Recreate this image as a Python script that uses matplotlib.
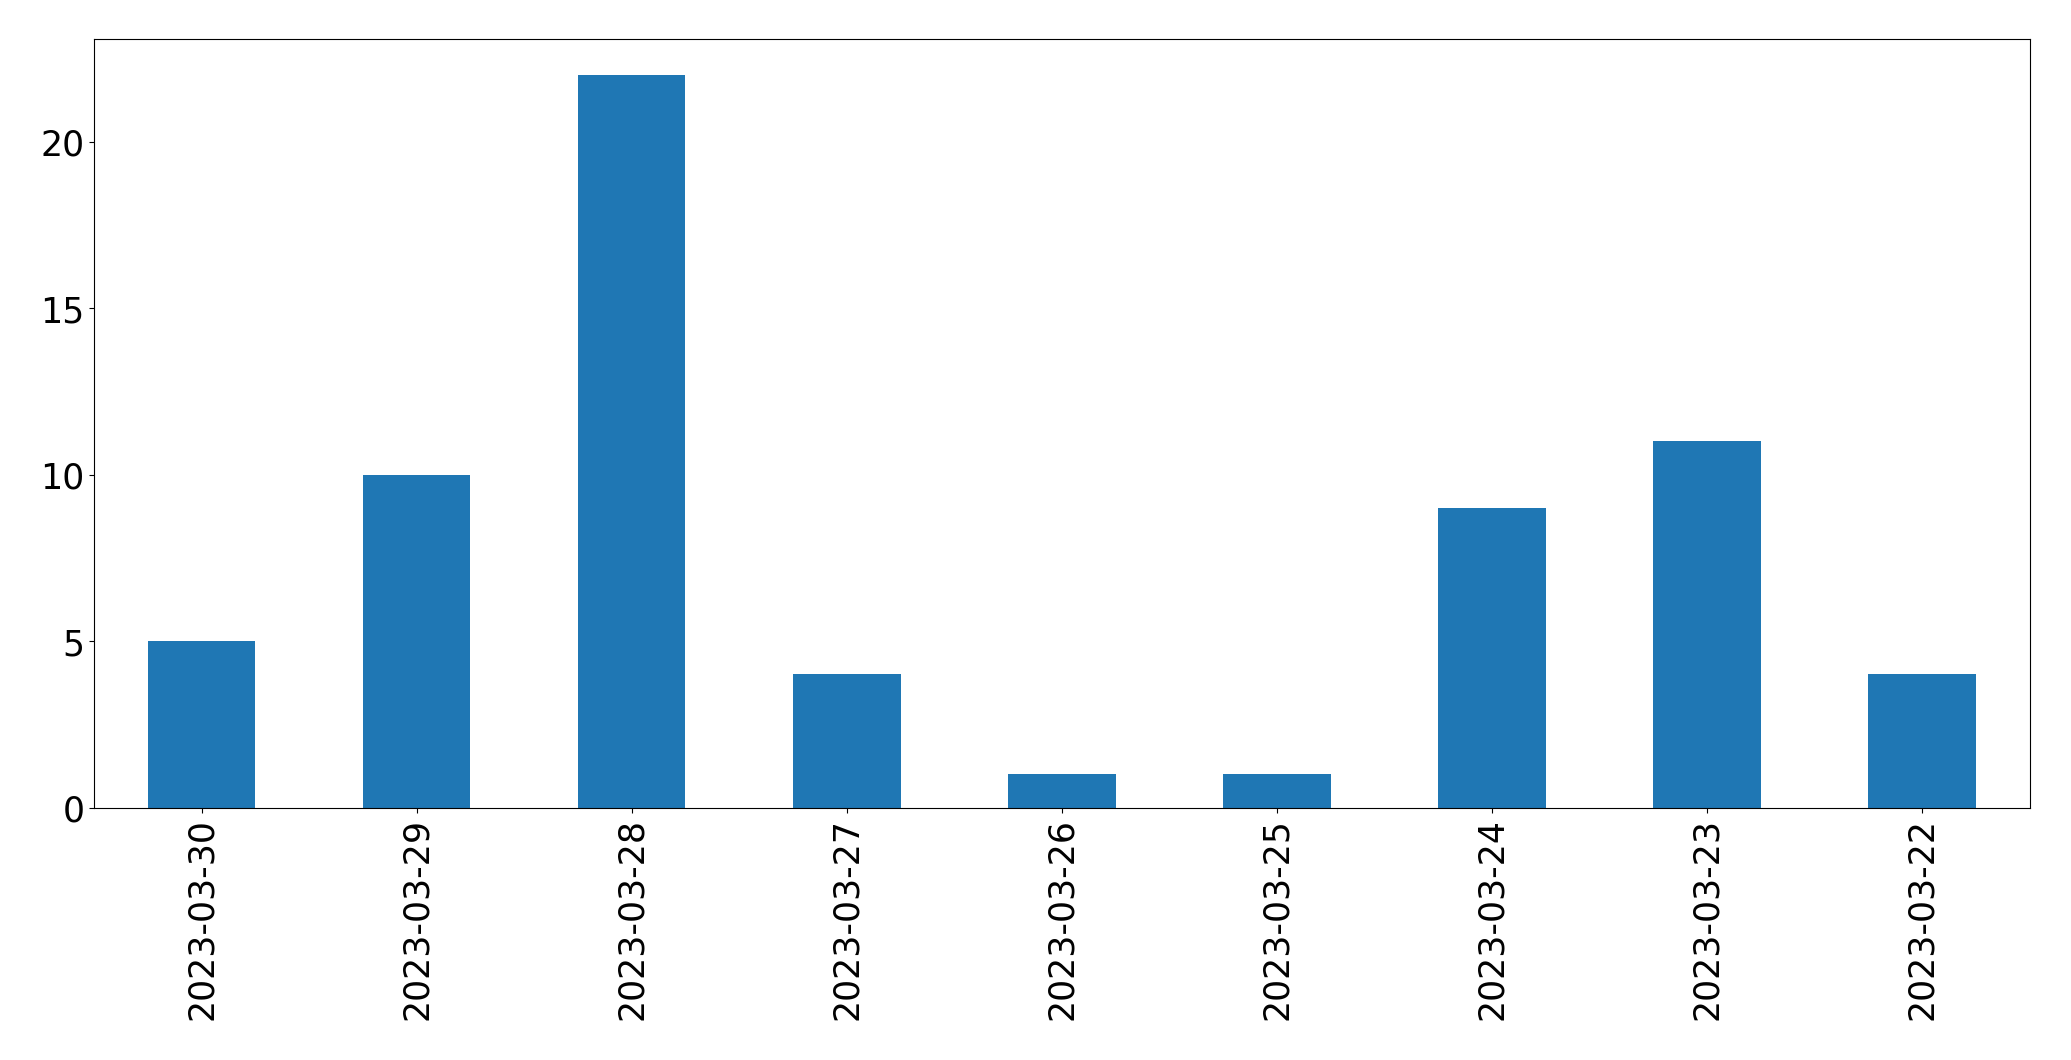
import matplotlib
matplotlib.use("Agg")
import matplotlib.pyplot as plt
import pandas as pd

# 날짜별 건수
dates = ["2023-03-30", "2023-03-29", "2023-03-28", "2023-03-27", "2023-03-26",
         "2023-03-25", "2023-03-24", "2023-03-23", "2023-03-22"]
counts = [5, 10, 22, 4, 1, 1, 9, 11, 4]

s = pd.Series(counts, index=dates)

fig, ax = plt.subplots(figsize=(20.71, 10.605), dpi=100)
s.plot(kind="bar", ax=ax, color="#1f77b4")
ax.tick_params(labelsize=25)
plt.subplots_adjust(left=0.0454, right=0.980, top=0.963, bottom=0.238)
plt.savefig("out.png", dpi=100)
